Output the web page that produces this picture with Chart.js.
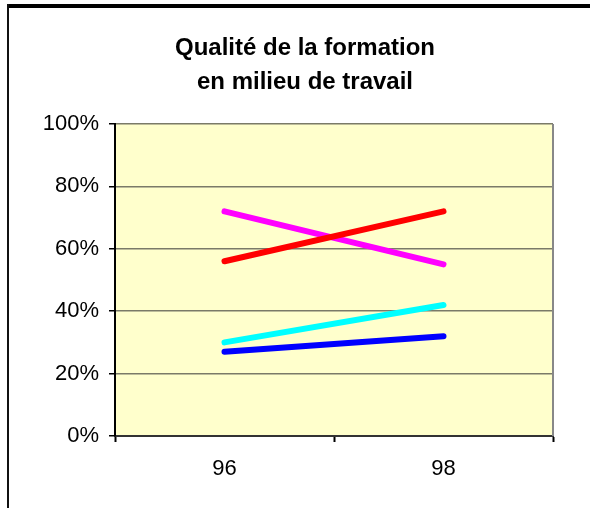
<!DOCTYPE html>
<html>
<head>
<meta charset="utf-8">
<script src="https://cdn.jsdelivr.net/npm/chart.js@4"></script>
<style>
  body { margin: 0; background: #fff; }
  #wrap { position: relative; width: 590px; height: 508px; }
  #frameTop { position: absolute; left: 7px; top: 4px; width: 583px; height: 4px; background: #000; }
  #frameLeft { position: absolute; left: 7px; top: 4px; width: 2px; height: 504px; background: #111; }
</style>
</head>
<body>
<div id="wrap">
  <canvas id="myChart" width="590" height="508"></canvas>
  <div id="frameTop"></div>
  <div id="frameLeft"></div>
</div>
<script>
var years = ['96', '98'];
var seriesRed = [56, 72];
var seriesMagenta = [72, 55];
var seriesCyan = [30, 42];
var seriesBlue = [27, 32];
var yTicks = [0, 20, 40, 60, 80, 100];

var plotBackground = {
  id: 'plotBackground',
  beforeDraw: function(chart) {
    var a = chart.chartArea, c = chart.ctx;
    c.save();
    c.fillStyle = '#FFFFCC';
    c.fillRect(a.left, a.top, a.right - a.left, a.bottom - a.top);
    c.restore();
  },
  beforeDatasetsDraw: function(chart) {
    var a = chart.chartArea, c = chart.ctx;
    c.save();
    c.strokeStyle = '#888888';
    c.lineWidth = 2;
    c.beginPath();
    c.moveTo(a.right, a.top);
    c.lineTo(a.right, a.bottom);
    c.stroke();
    c.restore();
  }
};

function makeLine(label, values, color) {
  return {
    label: label,
    data: values,
    borderColor: color,
    backgroundColor: color,
    borderWidth: 6,
    borderCapStyle: 'round',
    pointRadius: 0,
    tension: 0,
    fill: false
  };
}

var ctx = document.getElementById('myChart').getContext('2d');
var myLineChart = new Chart(ctx, {
  type: 'line',
  data: {
    labels: years,
    datasets: [
      makeLine('Série 1', seriesRed, '#FF0000'),
      makeLine('Série 2', seriesMagenta, '#FF00FF'),
      makeLine('Série 3', seriesCyan, '#00FFFF'),
      makeLine('Série 4', seriesBlue, '#0000FF')
    ]
  },
  options: {
    responsive: false,
    animation: false,
    layout: { padding: { left: 20, right: 0, top: 0, bottom: 0 } },
    plugins: {
      legend: { display: false },
      tooltip: { enabled: false },
      title: {
        display: true,
        text: ['Qualité de la formation', 'en milieu de travail'],
        color: '#000',
        font: { family: 'Liberation Sans, Arial, sans-serif', size: 24, weight: 'bold', lineHeight: 34 / 24 },
        padding: { top: 31, bottom: 25 }
      }
    },
    scales: {
      x: {
        offset: true,
        afterFit: function(scale) { scale.height = 72; },
        grid: { offset: true, drawOnChartArea: false, tickLength: 6, tickColor: '#000', tickWidth: 2 },
        border: { color: '#333', width: 2 },
        ticks: {
          color: '#000',
          padding: 14,
          font: { family: 'Liberation Sans, Arial, sans-serif', size: 22 }
        }
      },
      y: {
        min: 0,
        max: 100,
        afterFit: function(scale) { scale.width = 95; },
        afterBuildTicks: function(scale) {
          scale.ticks = yTicks.map(function(v) { return { value: v }; });
        },
        grid: { color: '#7a7a68', lineWidth: 1.5, tickLength: 6, tickColor: '#000', tickWidth: 1.5 },
        border: { color: '#000', width: 2 },
        ticks: {
          color: '#000',
          padding: 10,
          font: { family: 'Liberation Sans, Arial, sans-serif', size: 22 },
          callback: function(v) { return v + '%'; }
        }
      },
      // empty right-hand space so the title sits where it does in the original
      yRight: {
        position: 'right',
        afterFit: function(scale) { scale.width = 37; },
        grid: { display: false },
        border: { display: false },
        ticks: { display: false }
      }
    }
  },
  plugins: [plotBackground]
});
</script>
</body>
</html>
